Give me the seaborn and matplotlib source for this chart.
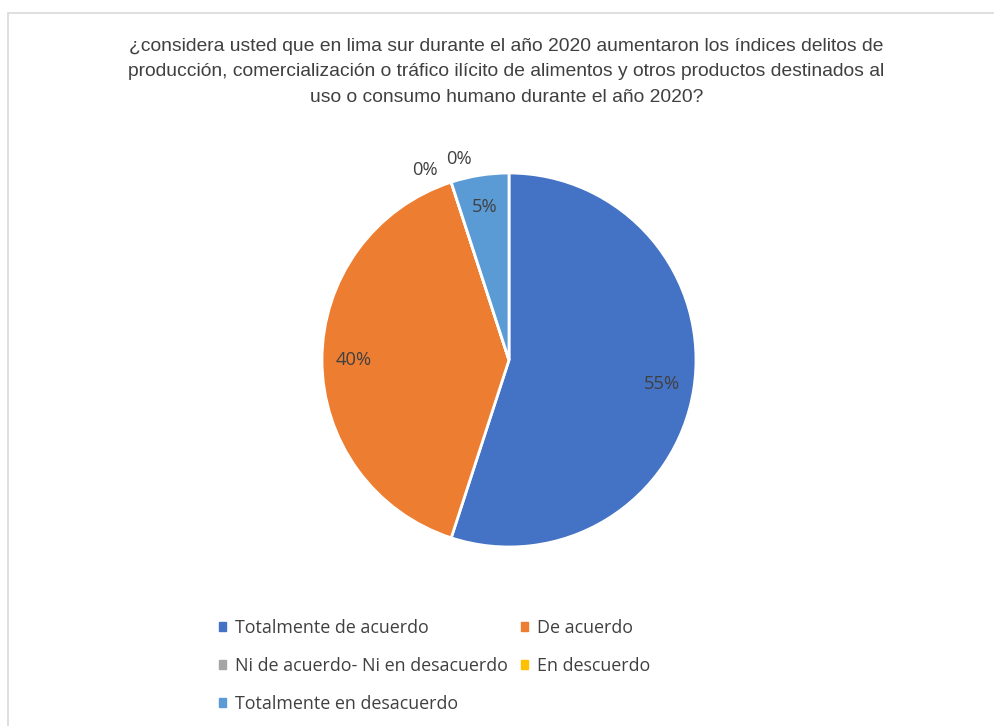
import numpy as np
import matplotlib.pyplot as plt
import matplotlib.patches as mpatches
import seaborn as sns

titulo = ("¿considera usted que en lima sur durante el año 2020 aumentaron los índices delitos de\n"
          "producción, comercialización o tráfico ilícito de alimentos y otros productos destinados al\n"
          "uso o consumo humano durante el año 2020?")
categorias = ["Totalmente de acuerdo", "De acuerdo", "Ni de acuerdo- Ni en desacuerdo",
              "En descuerdo", "Totalmente en desacuerdo"]
porcentajes = [55, 40, 0, 0, 5]
colores = ["#4472C4", "#ED7D31", "#A5A5A5", "#FFC000", "#5B9BD5"]

sns.set_theme(style="white")
plt.rcParams['font.family'] = ['Open Sans', 'DejaVu Sans']

fig = plt.figure(figsize=(9.95, 7.26), dpi=100)

# marco del grafico
fig.patches.append(mpatches.Rectangle((8 / 995, -0.05), 1.2, 1 - 13 / 726 + 0.05,
                                      transform=fig.transFigure, fill=False,
                                      edgecolor="#D9D9D9", linewidth=1.2))

fig.text(0.509, 1 - 72 / 726, titulo, ha="center", va="center", fontsize=13.9,
         family=["Liberation Sans", "DejaVu Sans"], color="#404040", linespacing=1.65)

# ejes del pie: centro (509,360), radio 187 px
r_px = 187
ax = fig.add_axes([(509 - r_px) / 995, (726 - 360 - r_px) / 726, 2 * r_px / 995, 2 * r_px / 726])
wedges, textos, autotextos = ax.pie(porcentajes, colors=colores, startangle=90, counterclock=False,
                                   autopct="%.0f%%", pctdistance=0.83,
                                   wedgeprops=dict(edgecolor="white", linewidth=2),
                                   textprops=dict(color="#404040", fontsize=13.2))
ax.set_xlim(-1, 1)
ax.set_ylim(-1, 1)
ax.set_aspect("auto")

# etiquetas de los sectores vacios, fuera del circulo
desplaz = [0, 0, 6, -4, 0]
for w, t, v, d in zip(wedges, autotextos, porcentajes, desplaz):
    if v == 0:
        ang = np.deg2rad(w.theta1 + d)
        t.set_position((1.11 * np.cos(ang), 1.11 * np.sin(ang)))

orden = [0, 2, 4, 1, 3]
handles = [mpatches.Patch(color=colores[i]) for i in orden]
labels = [categorias[i] for i in orden]
fig.legend(handles, labels, ncol=2, loc="upper left", bbox_to_anchor=(203 / 995, 1 - 603 / 726),
           frameon=False, fontsize=12.9, handlelength=0.4, handleheight=0.4,
           handletextpad=0.5, columnspacing=0.7, labelspacing=1.12, labelcolor="#404040")

fig.savefig("out.png", dpi=100)
